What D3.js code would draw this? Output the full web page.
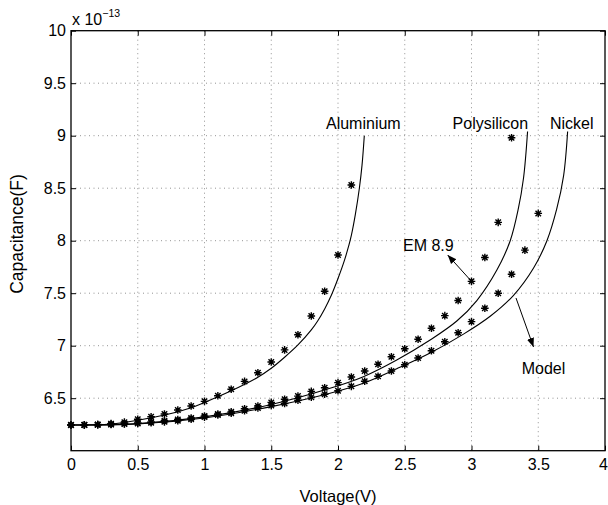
<!DOCTYPE html>
<html>
<head>
<meta charset="utf-8">
<script src="https://cdn.jsdelivr.net/npm/d3@7"></script>
<style>
  body { margin: 0; background: #fff; }
  text { font-family: "Liberation Sans", Arial, Helvetica, sans-serif; }
</style>
</head>
<body>
<div id="chart"></div>
<script>
// tick values
const xTicks = [0, 0.5, 1, 1.5, 2, 2.5, 3, 3.5, 4];
const yTicks = [6.5, 7, 7.5, 8, 8.5, 9, 9.5, 10];

// measured points (EM 8.9), capacitance in 1e-13 F
const alV = [0,0.1,0.2,0.3,0.4,0.5,0.6,0.7,0.8,0.9,1.0,1.1,1.2,1.3,1.4,1.5,1.6,1.7,1.8,1.9,2.0,2.1];
const alC = [6.245,6.247,6.25,6.258,6.272,6.30,6.324,6.35,6.388,6.426,6.47,6.524,6.585,6.66,6.743,6.845,6.96,7.105,7.283,7.518,7.864,8.53];

const polyV = [0,0.1,0.2,0.3,0.4,0.5,0.6,0.7,0.8,0.9,1.0,1.1,1.2,1.3,1.4,1.5,1.6,1.7,1.8,1.9,2.0,2.1,2.2,2.3,2.4,2.5,2.6,2.7,2.8,2.9,3.0,3.1,3.2,3.3];
const polyC = [6.245,6.245,6.248,6.252,6.258,6.265,6.275,6.285,6.297,6.312,6.33,6.35,6.37,6.40,6.426,6.46,6.49,6.52,6.565,6.60,6.648,6.702,6.759,6.823,6.895,6.971,7.061,7.166,7.286,7.43,7.613,7.84,8.175,8.98];

const niV = [0,0.1,0.2,0.3,0.4,0.5,0.6,0.7,0.8,0.9,1.0,1.1,1.2,1.3,1.4,1.5,1.6,1.7,1.8,1.9,2.0,2.1,2.2,2.3,2.4,2.5,2.6,2.7,2.8,2.9,3.0,3.1,3.2,3.3,3.4,3.5];
const niC = [6.245,6.245,6.247,6.25,6.255,6.26,6.267,6.275,6.285,6.30,6.32,6.34,6.356,6.38,6.407,6.43,6.45,6.48,6.51,6.537,6.571,6.613,6.661,6.709,6.759,6.819,6.883,6.952,7.038,7.124,7.229,7.356,7.499,7.68,7.91,8.26];

// model curves
const alModelV = [0,0.3,0.5,0.7,0.9,1.0,1.2,1.4,1.5,1.6,1.7,1.8,1.85,1.9,1.95,2.0,2.05,2.08,2.1,2.13,2.16,2.18,2.197];
const alModelC = [6.245,6.255,6.29,6.34,6.41,6.46,6.571,6.70,6.785,6.89,7.007,7.15,7.24,7.35,7.48,7.64,7.82,7.95,8.05,8.25,8.5,8.72,9.0];

const polyModelV = [0,0.5,1.0,1.5,1.94,2.19,2.44,2.69,2.89,3.04,3.19,3.29,3.35,3.39,3.42];
const polyModelC = [6.245,6.258,6.322,6.44,6.594,6.705,6.864,7.054,7.235,7.43,7.72,8.0,8.3,8.6,9.04];

const niModelV = [0,0.5,1.0,1.5,1.94,2.19,2.44,2.69,2.94,3.14,3.315,3.465,3.565,3.638,3.69,3.72];
const niModelC = [6.245,6.255,6.312,6.42,6.547,6.642,6.78,6.93,7.11,7.28,7.48,7.74,8.0,8.3,8.62,9.04];

const curveLabels = ["Aluminium", "Polysilicon", "Nickel"];

//Setting the dimensions and margins of the graph
const margin = {top: 30.7, right: 3, bottom: 54.3, left: 71},
    width = 608 - margin.left - margin.right,
    height = 505 - margin.top - margin.bottom;

const svg = d3.select("#chart")
    .append("svg")
    .attr("width", 608)
    .attr("height", 505)
    .append("g")
    .attr("transform", `translate(${margin.left},${margin.top})`);

const x = d3.scaleLinear().domain([0, 4]).range([0, width]);
const y = d3.scaleLinear().domain([6, 10]).range([height, 0]);

// arrow head
svg.append("defs").append("marker")
    .attr("id", "arrow")
    .attr("viewBox", "0 0 10 10")
    .attr("refX", 10)
    .attr("refY", 5)
    .attr("markerWidth", 9)
    .attr("markerHeight", 9)
    .attr("markerUnits", "userSpaceOnUse")
    .attr("orient", "auto")
    .append("path")
    .attr("d", "M0,1 L10,5 L0,9 Z")
    .attr("fill", "#000");

//Grid
svg.append("g")
    .selectAll("line")
    .data(xTicks.filter(d => d > 0 && d < 4))
    .join("line")
    .attr("x1", d => x(d)).attr("x2", d => x(d))
    .attr("y1", 0).attr("y2", height)
    .attr("stroke", "#777")
    .attr("stroke-width", 0.8)
    .attr("stroke-dasharray", "1,3.5");

svg.append("g")
    .selectAll("line")
    .data(yTicks.filter(d => d < 10))
    .join("line")
    .attr("x1", 0).attr("x2", width)
    .attr("y1", d => y(d)).attr("y2", d => y(d))
    .attr("stroke", "#777")
    .attr("stroke-width", 0.8)
    .attr("stroke-dasharray", "1,3.5");

// Axes with inward ticks
svg.append("g")
    .attr("transform", `translate(0, ${height})`)
    .call(d3.axisBottom(x).tickValues(xTicks).tickSize(-5).tickPadding(8).tickFormat(d3.format("")));
svg.append("g")
    .call(d3.axisLeft(y).tickValues(yTicks).tickSize(-5).tickPadding(5).tickFormat(d3.format("")));
svg.append("g")
    .call(d3.axisTop(x).tickValues(xTicks).tickSize(-5).tickFormat(""));
svg.append("g")
    .attr("transform", `translate(${width},0)`)
    .call(d3.axisRight(y).tickValues(yTicks).tickSize(-5).tickFormat(""));

svg.selectAll(".domain").remove();
svg.selectAll(".tick line").attr("stroke", "#000");
svg.selectAll(".tick text")
    .attr("fill", "#000")
    .style("font-size", "16px");
// the last x label sits on the page edge
svg.selectAll(".tick text").filter(d => d === 4).attr("dx", -2);

svg.append("rect")
    .attr("width", width)
    .attr("height", height)
    .attr("fill", "none")
    .attr("stroke", "#000")
    .attr("stroke-width", 1.3);

// exponent label
const expo = svg.append("text")
    .attr("x", 1)
    .attr("y", -6)
    .style("font-size", "16px");
expo.append("tspan").text("x 10");
expo.append("tspan")
    .attr("dy", -8)
    .style("font-size", "10.5px")
    .text("\u221213");

// axis titles
svg.append("text")
    .attr("x", width / 2)
    .attr("y", height + 51)
    .attr("text-anchor", "middle")
    .style("font-size", "16.5px")
    .text("Voltage(V)");

svg.append("text")
    .attr("transform", `translate(${22.5 - margin.left}, ${234 - margin.top}) rotate(-90)`)
    .attr("text-anchor", "middle")
    .style("font-size", "17.5px")
    .text("Capacitance(F)");

// model lines
const line = d3.line()
    .x(d => x(d[0]))
    .y(d => y(d[1]))
    .curve(d3.curveCatmullRom.alpha(0.5));

[[alModelV, alModelC], [polyModelV, polyModelC], [niModelV, niModelC]].forEach(([vs, cs]) => {
    svg.append("path")
        .datum(vs.map((v, i) => [v, cs[i]]))
        .attr("fill", "none")
        .attr("stroke", "#000")
        .attr("stroke-width", 1.1)
        .attr("d", line);
});

// asterisk markers
const r = 3.8;
const k = r * 0.72;
const star = `M${-r},0L${r},0M0,${-r}L0,${r}M${-k},${-k}L${k},${k}M${-k},${k}L${k},${-k}`;

[[alV, alC], [polyV, polyC], [niV, niC]].forEach(([vs, cs]) => {
    svg.append("g")
        .selectAll("path")
        .data(vs.map((v, i) => [v, cs[i]]))
        .join("path")
        .attr("transform", d => `translate(${x(d[0])},${y(d[1])})`)
        .attr("d", star)
        .attr("fill", "none")
        .attr("stroke", "#000")
        .attr("stroke-width", 1.4);
});

// curve labels, placed near the top of each model line
const labelOffset = [-38.3, -75, -17.7];
const curveEnds = [alModelV[alModelV.length - 1], polyModelV[polyModelV.length - 1], niModelV[niModelV.length - 1]];
curveLabels.forEach((t, i) => {
    svg.append("text")
        .attr("x", x(curveEnds[i]) + labelOffset[i])
        .attr("y", 129.5 - margin.top)
        .style("font-size", "16px")
        .text(t);
});

// annotations
svg.append("text")
    .attr("x", 403 - margin.left)
    .attr("y", 251.5 - margin.top)
    .style("font-size", "16px")
    .text("EM 8.9");
svg.append("line")
    .attr("x1", x(polyV[30])).attr("y1", y(polyC[30]))
    .attr("x2", 447.7 - margin.left).attr("y2", 255 - margin.top)
    .attr("stroke", "#000")
    .attr("marker-end", "url(#arrow)");

svg.append("text")
    .attr("x", 521.7 - margin.left)
    .attr("y", 374 - margin.top)
    .style("font-size", "16px")
    .text("Model");
svg.append("line")
    .attr("x1", 516 - margin.left).attr("y1", 298 - margin.top)
    .attr("x2", 533.5 - margin.left).attr("y2", 347 - margin.top)
    .attr("stroke", "#000")
    .attr("marker-end", "url(#arrow)");
</script>
</body>
</html>
